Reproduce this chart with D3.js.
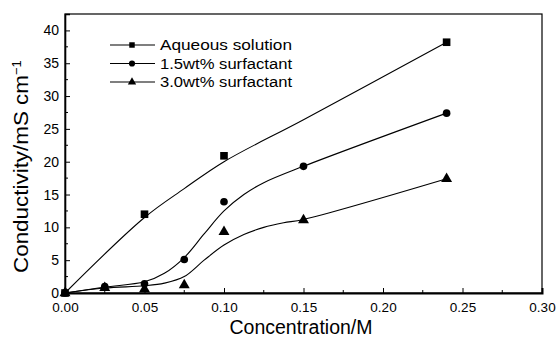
<!DOCTYPE html>
<html><head><meta charset="utf-8">
<script src="https://cdn.jsdelivr.net/npm/d3@7"></script>
<style>body{margin:0;background:#fff}svg{display:block}text{font-family:"Liberation Sans",Arial,sans-serif;fill:#000}</style>
</head><body><svg id="c" width="559" height="338"></svg>
<script>
// measured data
const concentrations = [0, 0.025, 0.05, 0.075, 0.1, 0.15, 0.24];
const aqueousX = [0, 0.05, 0.1, 0.24];
const aqueousY = [0, 12.0, 20.9, 38.2];
const surf15Y = [0, 0.96, 1.4, 5.1, 13.9, 19.3, 27.4];
const surf30Y = [0, 0.8, 0.6, 1.2, 9.3, 11.1, 17.4];
// fitted curves
const fitAqX = [0, 0.05, 0.075, 0.1, 0.15, 0.24];
const fitAqY = [0, 11.5, 15.9, 20.0, 26.4, 38.2];
const fit15X = [0, 0.025, 0.05, 0.0625, 0.075, 0.0875, 0.1, 0.1125, 0.125, 0.15, 0.24];
const fit15Y = [0, 0.9, 1.7, 3.0, 5.4, 9.0, 12.5, 15.0, 16.8, 19.3, 27.4];
const fit30X = [0, 0.025, 0.05, 0.0625, 0.075, 0.0875, 0.1, 0.1125, 0.125, 0.1375, 0.15, 0.24];
const fit30Y = [0, 0.75, 1.1, 1.5, 2.5, 5.0, 7.3, 8.9, 10.0, 10.7, 11.2, 17.4];
const legendLabels = ["Aqueous solution", "1.5wt% surfactant", "3.0wt% surfactant"];
const xTicks = [0, 0.05, 0.10, 0.15, 0.20, 0.25, 0.30];
const yTicks = [0, 5, 10, 15, 20, 25, 30, 35, 40];

const svg = d3.select("#c");
const L = 65, R = 542, T = 14, B = 293;
const x = d3.scaleLinear().domain([0, 0.30]).range([L, R]);
const y = d3.scaleLinear().domain([0, 42.5]).range([B, T]);

// frame
svg.append("rect").attr("x", L).attr("y", T).attr("width", R - L).attr("height", B - T)
  .attr("fill", "none").attr("stroke", "#000").attr("stroke-width", 1.2);

// axes
const xa = svg.append("g").attr("transform", `translate(0,${B})`)
  .call(d3.axisBottom(x).tickValues(xTicks).tickFormat(d3.format(".2f")).tickSize(-5).tickPadding(9));
const ya = svg.append("g").attr("transform", `translate(${L},0)`)
  .call(d3.axisLeft(y).tickValues(yTicks).tickFormat(d3.format("d")).tickSize(-5).tickPadding(6));
xa.select(".domain").attr("stroke-width", 2);
ya.select(".domain").attr("stroke-width", 1.6);
xa.selectAll("text").attr("font-size", 13.5).attr("font-family", '"Liberation Sans",Arial,sans-serif');
ya.selectAll("text").attr("font-size", 14).attr("font-family", '"Liberation Sans",Arial,sans-serif');
// minor ticks
const xMinor = d3.range(0.025, 0.3, 0.05);
svg.append("g").selectAll("line").data(xMinor).join("line")
  .attr("x1", d => x(d)).attr("x2", d => x(d)).attr("y1", B).attr("y2", B - 3).attr("stroke", "#000");
const yMinor = d3.range(2.5, 42.5, 5);
svg.append("g").selectAll("line").data(yMinor).join("line")
  .attr("x1", L).attr("x2", L + 3).attr("y1", d => y(d)).attr("y2", d => y(d)).attr("stroke", "#000");

// titles
svg.append("text").attr("x", 301).attr("y", 334).attr("text-anchor", "middle").attr("font-size", 19.5)
  .text("Concentration/M");
const yt = svg.append("text").attr("transform", "translate(27.5,273) rotate(-90)")
  .attr("text-anchor", "start").attr("font-size", 19.5);
yt.append("tspan").attr("textLength", 198).attr("lengthAdjust", "spacingAndGlyphs").text("Conductivity/mS cm");
yt.append("tspan").attr("dy", -7).attr("font-size", 13).text("−1");

// curves
const line = d3.line().x(d => x(d[0])).y(d => y(d[1])).curve(d3.curveCatmullRom.alpha(0.5));
const fits = [[fitAqX, fitAqY], [fit15X, fit15Y], [fit30X, fit30Y]];
fits.forEach(([xs, ys]) => {
  svg.append("path").datum(xs.map((v, i) => [v, ys[i]])).attr("d", line)
    .attr("fill", "none").attr("stroke", "#000").attr("stroke-width", 1.1);
});

// markers
const sym = [d3.symbolSquare, d3.symbolCircle, d3.symbolTriangle];
const sizes = [58, 46, 52];
const series = [
  aqueousX.map((v, i) => [v, aqueousY[i]]),
  concentrations.map((v, i) => [v, surf15Y[i]]),
  concentrations.map((v, i) => [v, surf30Y[i]])
];
series.forEach((pts, k) => {
  svg.append("g").selectAll("path").data(pts).join("path")
    .attr("transform", d => `translate(${x(d[0])},${y(d[1])})`)
    .attr("d", d3.symbol(sym[k], sizes[k])).attr("fill", "#000");
});

// legend
const ly = [45, 63.5, 82];
const lw = [132, 132, 132];
legendLabels.forEach((lab, i) => {
  svg.append("line").attr("x1", 110).attr("x2", 155).attr("y1", ly[i]).attr("y2", ly[i])
    .attr("stroke", "#000").attr("stroke-width", 1.1);
  svg.append("path").attr("transform", `translate(132,${ly[i]})`).attr("d", d3.symbol(sym[i], 30)).attr("fill", "#000");
  svg.append("text").attr("x", 160).attr("y", ly[i] + 5).attr("font-size", 15.5)
    .attr("textLength", lw[i]).attr("lengthAdjust", "spacingAndGlyphs").text(lab);
});
</script></body></html>
